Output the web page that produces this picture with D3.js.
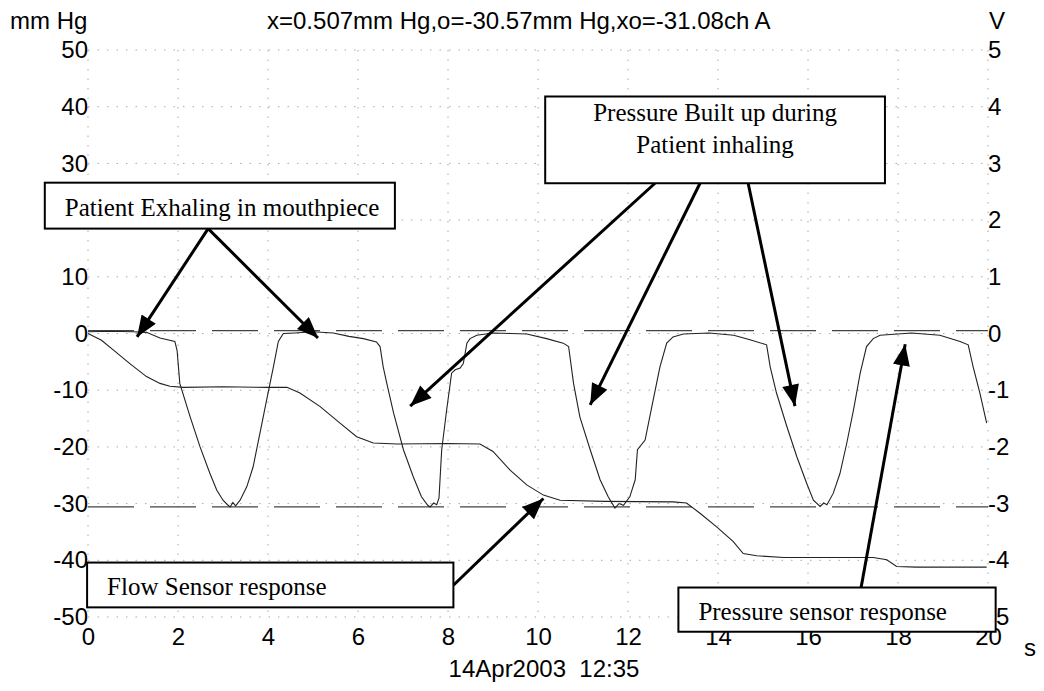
<!DOCTYPE html>
<html>
<head>
<meta charset="utf-8">
<script src="https://cdn.jsdelivr.net/npm/d3@7"></script>
<style>
  html, body { margin: 0; padding: 0; background: #fff; }
  svg { display: block; }
  .sans { font-family: "Liberation Sans", Arial, sans-serif; }
  .serif { font-family: "Liberation Serif", "Times New Roman", serif; }
</style>
</head>
<body>
<svg id="chart" width="1044" height="691"></svg>
<script>
// ---------------- data ----------------
const xTicks = [0, 2, 4, 6, 8, 10, 12, 14, 16, 18, 20];
const leftTicks = [50, 40, 30, 20, 10, 0, -10, -20, -30, -40, -50];
const rightTicks = [5, 4, 3, 2, 1, 0, -1, -2, -3, -4, -5];
const cursorLevels = [0.507, -30.57];

// Pressure sensor (mm Hg) vs time (s)
const pressureTime = [0.0,0.5,1.0,1.3,1.6,1.93,1.98,2.04,2.27,2.49,2.71,2.86,3.0,3.1,3.16,3.22,3.28,3.38,3.53,3.67,3.82,3.97,4.12,4.23,4.34,4.6,5.0,5.45,5.8,6.12,6.41,6.49,6.56,6.64,6.79,7.01,7.23,7.41,7.55,7.6,7.68,7.75,7.8,7.86,7.97,8.08,8.16,8.27,8.34,8.42,8.49,8.64,9.0,9.4,9.75,10.19,10.56,10.68,10.79,10.93,11.16,11.38,11.56,11.71,11.8,11.9,12.04,12.16,12.21,12.38,12.56,12.71,12.86,13.0,13.23,13.8,14.35,14.71,15.08,15.16,15.3,15.53,15.75,15.97,16.12,16.27,16.35,16.42,16.56,16.71,16.86,17.01,17.16,17.3,17.45,17.6,18.3,18.93,19.38,19.56,19.67,19.82,19.97];
const pressureValue = [0.3,0.4,0.3,0.2,-0.8,-1.4,-3.0,-8.8,-14.7,-20.0,-24.7,-27.6,-29.4,-30.2,-30.6,-29.8,-30.4,-29.4,-27.0,-23.5,-17.6,-11.7,-5.9,-1.4,0.0,0.1,0.3,0.1,-0.5,-0.9,-1.5,-2.3,-5.9,-8.8,-14.0,-20.5,-25.3,-28.8,-30.3,-30.6,-29.9,-30.2,-29.0,-20.5,-13.5,-7.0,-6.4,-6.1,-5.3,-1.7,-0.9,-0.3,0.1,0.0,-0.1,-0.9,-1.7,-2.3,-8.8,-14.7,-20.5,-25.8,-28.8,-30.8,-30.0,-30.3,-28.8,-25.8,-20.5,-18.8,-11.7,-5.9,-1.7,-0.6,-0.1,0.1,-0.3,-1.1,-2.0,-5.9,-10.5,-16.4,-21.7,-26.4,-29.4,-30.5,-29.9,-30.2,-28.2,-24.7,-19.4,-13.5,-7.0,-2.3,-0.9,-0.3,0.1,-0.3,-1.4,-2.0,-5.9,-10.5,-15.8];

// Flow sensor (plotted on the mm Hg scale) vs time (s)
const flowTime = [0.0,0.3,0.56,0.93,1.3,1.6,1.82,2.12,3.0,4.0,4.42,4.71,5.16,5.6,5.97,6.34,6.86,8.0,8.71,9.0,9.38,9.75,10.12,10.49,11.5,13.0,13.3,13.6,13.97,14.34,14.56,14.86,15.46,17.45,17.75,17.97,18.41,19.97];
const flowValue = [0.0,-1.2,-2.9,-5.3,-7.6,-8.8,-9.3,-9.5,-9.4,-9.5,-9.5,-10.5,-12.9,-15.8,-18.2,-19.3,-19.5,-19.4,-19.5,-20.8,-24.1,-26.7,-28.5,-29.4,-29.6,-29.7,-29.9,-31.7,-34.1,-36.7,-38.8,-39.2,-39.5,-39.5,-39.9,-41.1,-41.2,-41.2];

// Texts
const titleText = "x=0.507mm Hg,o=-30.57mm Hg,xo=-31.08ch A";
const leftUnit = "mm Hg";
const rightUnit = "V";
const xUnit = "s";
const dateText = "14Apr2003  12:35";

// Annotations (anchored in data units: t in s, v in mm Hg)
const annotationBoxes = [
  { lines: ["Patient Exhaling in mouthpiece"], t0: -0.96, t1: 6.82, v0: 26.6, v1: 18.5, align: "left" },
  { lines: ["Pressure Built up during", "Patient inhaling"], t0: 10.16, t1: 17.71, v0: 41.8, v1: 26.5, align: "center" },
  { lines: ["Flow Sensor response"], t0: -0.02, t1: 8.12, v0: -40.4, v1: -48.3, align: "left" },
  { lines: ["Pressure sensor response"], t0: 13.12, t1: 20.17, v0: -44.8, v1: -52.6, align: "left" }
];
const annotationArrows = [
  { from: [2.67, 18.5], to: [1.09, -0.6] },
  { from: [2.67, 18.5], to: [5.11, -0.8] },
  { from: [12.6, 26.5], to: [7.16, -12.8] },
  { from: [13.6, 26.5], to: [11.16, -12.6] },
  { from: [14.67, 26.5], to: [15.71, -12.8] },
  { from: [8.12, -44.4], to: [10.12, -29.1] },
  { from: [17.18, -44.8], to: [18.16, -1.9] }
];

// ---------------- drawing ----------------
const svg = d3.select("#chart");
const x = d3.scaleLinear().domain([0, 20]).range([88, 988]);
const y = d3.scaleLinear().domain([-50, 50]).range([617, 50]);
const yR = d3.scaleLinear().domain([-5, 5]).range([617, 50]);
const fmt = d => String(d);   // plain hyphen-minus, as in the reference

// dotted grid
const grid = svg.append("g").attr("stroke", "#a8a8a8").attr("stroke-width", 1)
  .attr("stroke-dasharray", "1.5,8").attr("fill", "none");
grid.selectAll("line.h").data(leftTicks).join("line").attr("class", "h")
  .attr("x1", x(0)).attr("x2", x(20)).attr("y1", d => y(d)).attr("y2", d => y(d));
grid.selectAll("line.v").data(xTicks).join("line").attr("class", "v")
  .attr("x1", d => x(d)).attr("x2", d => x(d)).attr("y1", y(50)).attr("y2", y(-50));

// cursor dashed lines
svg.append("g").selectAll("line").data(cursorLevels).join("line")
  .attr("x1", x(0)).attr("x2", x(20)).attr("y1", d => y(d)).attr("y2", d => y(d))
  .attr("stroke", "#444").attr("stroke-width", 1.4).attr("stroke-dasharray", "46,16");

// axes
const axL = svg.append("g").attr("class", "sans").attr("transform", `translate(${x(0) + 1},0)`)
  .call(d3.axisLeft(y).tickValues(leftTicks).tickSize(0).tickPadding(1).tickFormat(fmt));
const axR = svg.append("g").attr("class", "sans").attr("transform", `translate(${x(20)},0)`)
  .call(d3.axisRight(yR).tickValues(rightTicks).tickSize(0).tickPadding(0).tickFormat(fmt));
const axB = svg.append("g").attr("class", "sans").attr("transform", `translate(0,${y(-50)})`)
  .call(d3.axisBottom(x).tickValues(xTicks).tickSize(0).tickPadding(11).tickFormat(fmt));
[axL, axR, axB].forEach(a => {
  a.select(".domain").remove();
  a.selectAll("text").attr("font-size", 24).attr("fill", "#000")
    .attr("font-family", '"Liberation Sans", Arial, sans-serif');
});

// curves
const line = d3.line().x(d => x(d[0])).y(d => y(d[1]));
const pressure = pressureTime.map((t, i) => [t, pressureValue[i]]);
const flow = flowTime.map((t, i) => [t, flowValue[i]]);
svg.append("path").datum(flow).attr("d", line).attr("fill", "none")
  .attr("stroke", "#222").attr("stroke-width", 1.1);
svg.append("path").datum(pressure).attr("d", line).attr("fill", "none")
  .attr("stroke", "#222").attr("stroke-width", 1.1);

// header / units
svg.append("text").attr("class", "sans").attr("x", 10).attr("y", 29).attr("font-size", 24).text(leftUnit);
svg.append("text").attr("class", "sans").attr("x", 267).attr("y", 29).attr("font-size", 24).text(titleText);
svg.append("text").attr("class", "sans").attr("x", 989).attr("y", 29).attr("font-size", 24).text(rightUnit);
svg.append("text").attr("class", "sans").attr("x", 1024).attr("y", 656).attr("font-size", 24).text(xUnit);
svg.append("text").attr("class", "sans").attr("x", (x(0) + x(20)) / 2 + 6).attr("y", 677)
  .attr("text-anchor", "middle").attr("font-size", 24).attr("xml:space", "preserve").text(dateText);

// annotations
const defs = svg.append("defs");
defs.append("marker").attr("id", "ah").attr("markerUnits", "userSpaceOnUse")
  .attr("viewBox", "0 0 20 16").attr("refX", 20).attr("refY", 8)
  .attr("markerWidth", 22).attr("markerHeight", 17).attr("orient", "auto")
  .append("path").attr("d", "M0,0 L20,8 L0,16 Z").attr("fill", "#000");

const ann = svg.append("g");
ann.selectAll("line").data(annotationArrows).join("line")
  .attr("x1", d => x(d.from[0])).attr("y1", d => y(d.from[1]))
  .attr("x2", d => x(d.to[0])).attr("y2", d => y(d.to[1]))
  .attr("stroke", "#000").attr("stroke-width", 3).attr("marker-end", "url(#ah)");

const boxes = ann.selectAll("g.box").data(annotationBoxes).join("g").attr("class", "box");
boxes.append("rect")
  .attr("x", d => x(d.t0)).attr("y", d => y(d.v0))
  .attr("width", d => x(d.t1) - x(d.t0)).attr("height", d => y(d.v1) - y(d.v0))
  .attr("fill", "#fff").attr("stroke", "#000").attr("stroke-width", 2);
boxes.each(function(d) {
  const g = d3.select(this);
  const bx0 = x(d.t0), bx1 = x(d.t1), by0 = y(d.v0), by1 = y(d.v1);
  const n = d.lines.length;
  d.lines.forEach((s, i) => {
    const base = n === 1 ? Math.min(by1 - 12, by0 + 33) : by0 + 25 + i * 31.5;
    g.append("text").attr("class", "serif").attr("font-size", 25)
      .attr("x", d.align === "center" ? (bx0 + bx1) / 2 : bx0 + 20)
      .attr("text-anchor", d.align === "center" ? "middle" : "start")
      .attr("y", base).text(s);
  });
});
</script>
</body>
</html>
